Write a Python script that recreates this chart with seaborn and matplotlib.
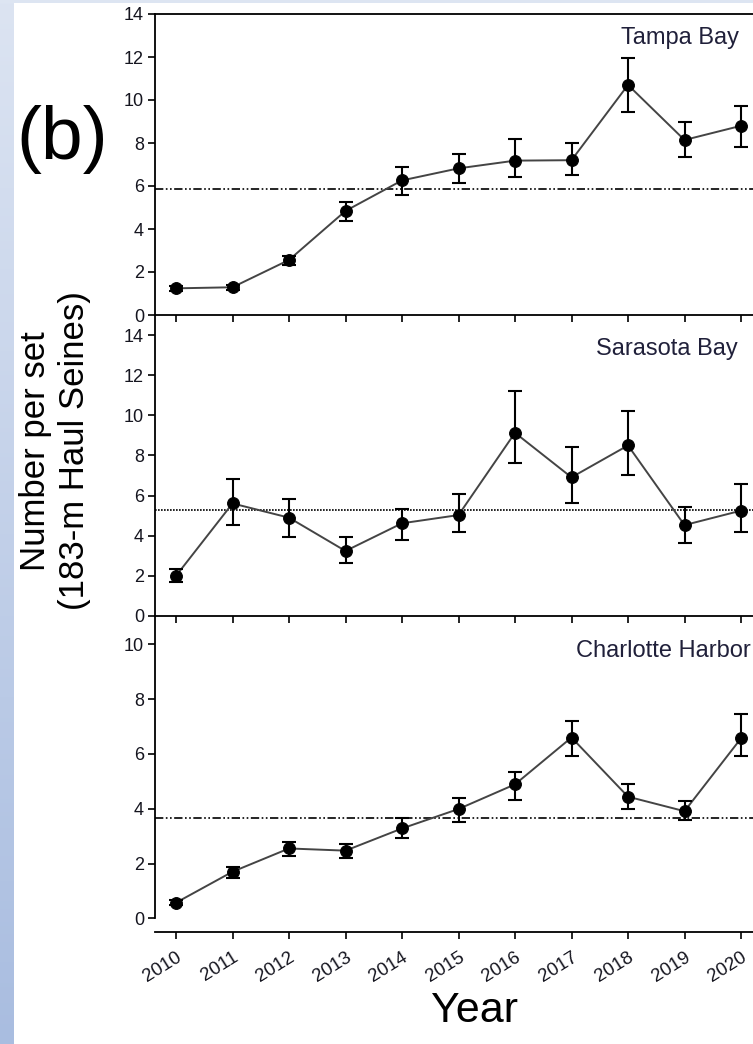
import numpy as np
import matplotlib
matplotlib.use("Agg")
import matplotlib.pyplot as plt
from matplotlib.colors import LinearSegmentedColormap
import seaborn as sns
import pandas as pd

# ---------------- data ----------------
years = [2010, 2011, 2012, 2013, 2014, 2015, 2016, 2017, 2018, 2019, 2020]

tampa_mean = [1.24, 1.29, 2.56, 4.84, 6.26, 6.82, 7.18, 7.20, 10.70, 8.14, 8.80]
tampa_lo   = [1.12, 1.17, 2.33, 4.37, 5.58, 6.15, 6.42, 6.50, 9.46, 7.33, 7.83]
tampa_hi   = [1.36, 1.41, 2.74, 5.27, 6.90, 7.49, 8.17, 8.00, 11.97, 9.00, 9.74]
tampa_overall = 5.85

sarasota_mean = [2.00, 5.61, 4.90, 3.24, 4.62, 5.03, 9.13, 6.91, 8.50, 4.53, 5.25]
sarasota_lo   = [1.68, 4.53, 3.95, 2.66, 3.79, 4.17, 7.64, 5.65, 7.03, 3.65, 4.17]
sarasota_hi   = [2.34, 6.83, 5.83, 3.95, 5.32, 6.06, 11.23, 8.44, 10.21, 5.43, 6.56]
sarasota_overall = 5.27

charlotte_mean = [0.57, 1.70, 2.55, 2.47, 3.28, 3.99, 4.89, 6.60, 4.44, 3.91, 6.57]
charlotte_lo   = [0.47, 1.46, 2.27, 2.19, 2.93, 3.50, 4.32, 5.92, 4.00, 3.59, 5.92]
charlotte_hi   = [0.67, 1.88, 2.77, 2.70, 3.65, 4.38, 5.33, 7.21, 4.89, 4.28, 7.45]
charlotte_overall = 3.65

panel_names = ["Tampa Bay", "Sarasota Bay", "Charlotte Harbor"]
ylabel_text = "Number per set\n(183-m Haul Seines)"
xlabel_text = "Year"
panel_tag = "(b)"

# ---------------- style ----------------
sns.set_theme(style="ticks")
plt.rcParams['font.family'] = ['Liberation Sans', 'DejaVu Sans']

W, H = 753, 1044
fig = plt.figure(figsize=(W / 100, H / 100), dpi=100)
fig.patch.set_facecolor("white")

# slide background strips
cmap = LinearSegmentedColormap.from_list("bg", ["#dce4f2", "#a9bde0"])
bg_ax = fig.add_axes([0, 0, 14 / W, 1])
bg_ax.imshow(np.linspace(0, 1, 256).reshape(-1, 1), aspect="auto", cmap=cmap,
             extent=[0, 1, 0, 1])
bg_ax.set_axis_off()
top_ax = fig.add_axes([0, 1 - 3 / H, 1, 3 / H])
top_ax.set_facecolor("#dde5f2")
top_ax.set_xticks([]); top_ax.set_yticks([])
for s in top_ax.spines.values():
    s.set_visible(False)

# axes geometry (pixel based)
x_left_px = 155
px_per_year = 56.5
x_first_px = 176
xmin = years[0] - (x_first_px - x_left_px) / px_per_year
xmax = xmin + 610 / px_per_year
ax_w = (xmax - xmin) * px_per_year

panels = [
    dict(top=14, bottom=315, ylim=(0, 14), yticks=np.arange(0, 15, 2),
         mean=tampa_mean, lo=tampa_lo, hi=tampa_hi, overall=tampa_overall,
         dashes=(5, 1.5, 1, 1.5, 1, 1.5), title_y=0.957, title_x=0.958),
    dict(top=315, bottom=616, ylim=(0, 15), yticks=np.arange(0, 15, 2),
         mean=sarasota_mean, lo=sarasota_lo, hi=sarasota_hi, overall=sarasota_overall,
         dashes=(1, 0.8), title_y=0.925, title_x=0.955),
    dict(top=617, bottom=932, ylim=(-0.5, 11), yticks=np.arange(0, 11, 2),
         mean=charlotte_mean, lo=charlotte_lo, hi=charlotte_hi, overall=charlotte_overall,
         dashes=(5, 1.5, 1, 1.5, 1, 1.5), title_y=0.928, title_x=0.976),
]

text_color = "#15151f"
axes = []
for i, p in enumerate(panels):
    ax = fig.add_axes([x_left_px / W, 1 - p["bottom"] / H, ax_w / W,
                       (p["bottom"] - p["top"]) / H])
    ax.set_facecolor("none")
    df = pd.DataFrame({"year": years, "value": p["mean"]})
    yerr = [np.array(p["mean"]) - np.array(p["lo"]),
            np.array(p["hi"]) - np.array(p["mean"])]
    ax.axhline(p["overall"], color="black", lw=1.2, dashes=p["dashes"], zorder=1)
    sns.lineplot(data=df, x="year", y="value", ax=ax, color="#444444", lw=1.4,
                 marker="o", markersize=8.5, markerfacecolor="black",
                 markeredgecolor="black", zorder=3)
    ax.errorbar(years, p["mean"], yerr=yerr, fmt="none", ecolor="black",
                elinewidth=1.5, capsize=5, capthick=1.5, zorder=4)
    ax.set_xlim(xmin, xmax)
    ax.set_ylim(*p["ylim"])
    ax.set_yticks(p["yticks"])
    ax.set_xticks(years)
    ax.set_xlabel("")
    ax.set_ylabel("")
    ax.tick_params(axis="both", direction="out", length=5, width=1.2,
                   colors="black", labelcolor=text_color, labelsize=13, pad=3)
    for s in ["left", "bottom", "top"]:
        ax.spines[s].set_linewidth(1.3)
        ax.spines[s].set_color("black")
    ax.spines["right"].set_visible(False)
    ax.spines["top"].set_visible(i == 0)
    if i < 2:
        ax.tick_params(axis="x", labelbottom=False)
    else:
        ax.spines["left"].set_bounds(0, 11)
        ax.set_xticklabels([str(y) for y in years], rotation=32, ha="right",
                           va="top", rotation_mode="anchor")
        ax.tick_params(axis="x", pad=7, labelsize=13.5)
    ax.text(p["title_x"], p["title_y"], panel_names[i], transform=ax.transAxes,
            ha="right", va="top", fontsize=17, color="#20203a")
    axes.append(ax)

fig.text(55 / W, 1 - 451 / H, ylabel_text, rotation=90, ha="center", va="center",
         fontsize=25, linespacing=1.2, multialignment="center", color="black")
fig.text(474 / W, 1 - 1011 / H, xlabel_text, ha="center", va="center",
         fontsize=31, color="black")
fig.text(62 / W, 1 - 140 / H, panel_tag, ha="center", va="center",
         fontsize=54, color="black")

fig.savefig("out.png", dpi=100, facecolor="white")
